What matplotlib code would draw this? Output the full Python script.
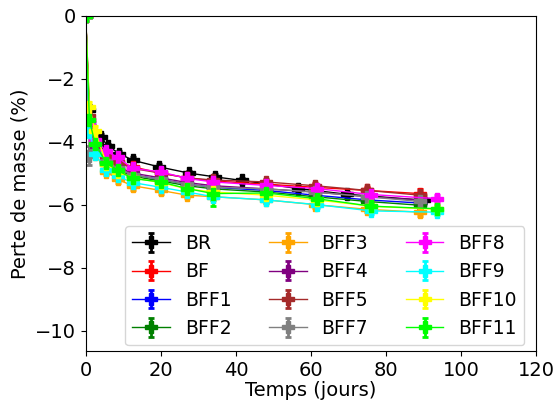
import numpy as np
import matplotlib
matplotlib.use("Agg")
import matplotlib.pyplot as plt

# ── temps de mesure (jours)
t_br = [0, 1, 4, 6, 9, 12.5, 19.5, 27.5, 34.5, 41.5, 56.5, 69.5, 90]
t_a  = [0, 1, 2.5, 5.5, 8.5, 12.5, 20, 27, 34, 48, 61, 75, 89]
t_b  = [0, 1, 2.5, 5.5, 8.5, 12.5, 20, 27, 34, 48, 61.5, 76, 93.5]

# ── perte de masse (%) par formulation
br    = [0, -3.00, -3.85, -4.15, -4.38, -4.59, -4.80, -5.00, -5.12, -5.23, -5.49, -5.67, -5.86]
bf    = [0, -3.30, -4.10, -4.45, -4.65, -4.80, -5.00, -5.15, -5.25, -5.35, -5.45, -5.55, -5.65]
bff1  = [0, -3.40, -4.20, -4.65, -4.85, -5.05, -5.20, -5.35, -5.45, -5.55, -5.70, -5.85, -5.95]
bff2  = [0, -3.50, -4.25, -4.70, -4.90, -5.10, -5.25, -5.40, -5.50, -5.60, -5.75, -5.90, -6.02]
bff3  = [0, -3.60, -4.40, -4.95, -5.20, -5.40, -5.55, -5.70, -5.75, -5.85, -6.00, -6.15, -6.24]
bff4  = [0, -3.30, -4.15, -4.60, -4.80, -5.00, -5.15, -5.30, -5.40, -5.50, -5.60, -5.75, -5.85]
bff5  = [0, -3.20, -4.00, -4.45, -4.65, -4.85, -5.00, -5.15, -5.22, -5.28, -5.40, -5.55, -5.70]
bff7  = [0, -4.45, -4.30, -4.60, -4.85, -5.05, -5.20, -5.35, -5.45, -5.50, -5.60, -5.75, -5.90]
bff8  = [0, -3.40, -3.95, -4.30, -4.50, -4.85, -4.96, -5.17, -5.28, -5.39, -5.49, -5.68, -5.81]
bff9  = [0, -3.70, -4.40, -4.90, -5.10, -5.30, -5.45, -5.60, -5.75, -5.85, -6.00, -6.20, -6.24]
bff10 = [0, -2.90, -3.65, -4.70, -4.95, -5.15, -5.30, -5.50, -5.60, -5.70, -5.85, -6.05, -6.15]
bff11 = [0, -3.32, -4.06, -4.68, -4.91, -5.17, -5.28, -5.49, -5.65, -5.63, -5.81, -6.05, -6.13]

# ── écarts-types
e_br    = [0, 0.15, 0.10, 0.08, 0.08, 0.10, 0.08, 0.08, 0.08, 0.08, 0.10, 0.08, 0.08]
e_bf    = [0, 0.12, 0.10, 0.08, 0.08, 0.10, 0.10, 0.08, 0.08, 0.08, 0.10, 0.10, 0.15]
e_bff1  = [0, 0.10, 0.08, 0.08, 0.08, 0.08, 0.08, 0.08, 0.08, 0.08, 0.08, 0.08, 0.10]
e_bff2  = [0, 0.10, 0.08, 0.08, 0.10, 0.10, 0.08, 0.08, 0.10, 0.08, 0.10, 0.08, 0.12]
e_bff3  = [0, 0.10, 0.10, 0.12, 0.12, 0.12, 0.12, 0.10, 0.10, 0.10, 0.10, 0.10, 0.12]
e_bff4  = [0, 0.10, 0.08, 0.08, 0.08, 0.08, 0.08, 0.08, 0.08, 0.08, 0.08, 0.08, 0.08]
e_bff5  = [0, 0.10, 0.08, 0.08, 0.08, 0.08, 0.08, 0.08, 0.08, 0.08, 0.08, 0.08, 0.10]
e_bff7  = [0, 0.30, 0.10, 0.08, 0.08, 0.08, 0.08, 0.08, 0.08, 0.08, 0.08, 0.08, 0.08]
e_bff8  = [0, 0.10, 0.10, 0.10, 0.10, 0.10, 0.10, 0.10, 0.10, 0.10, 0.10, 0.10, 0.10]
e_bff9  = [0, 0.10, 0.10, 0.10, 0.10, 0.10, 0.10, 0.10, 0.10, 0.10, 0.10, 0.10, 0.10]
e_bff10 = [0, 0.15, 0.15, 0.10, 0.10, 0.10, 0.10, 0.10, 0.10, 0.10, 0.10, 0.10, 0.10]
e_bff11 = [0, 0.15, 0.12, 0.10, 0.12, 0.12, 0.12, 0.12, 0.40, 0.10, 0.10, 0.12, 0.12]

labels = ['BR', 'BF', 'BFF1', 'BFF2', 'BFF3', 'BFF4',
          'BFF5', 'BFF7', 'BFF8', 'BFF9', 'BFF10', 'BFF11']
colors = ['black', 'red', 'blue', 'green', 'orange', 'purple',
          'brown', 'grey', 'magenta', 'cyan', 'yellow', 'lime']
times  = [t_br, t_a, t_a, t_a, t_a, t_a, t_a, t_a, t_b, t_b, t_b, t_b]
values = [br, bf, bff1, bff2, bff3, bff4, bff5, bff7, bff8, bff9, bff10, bff11]
errors = [e_br, e_bf, e_bff1, e_bff2, e_bff3, e_bff4, e_bff5, e_bff7,
          e_bff8, e_bff9, e_bff10, e_bff11]

fig = plt.figure(figsize=(5.6, 4.03), dpi=100)
ax = fig.add_subplot(111)
fig.subplots_adjust(left=0.153, right=0.958, top=0.961, bottom=0.129)

for t, y, e, lab, c in zip(times, values, errors, labels, colors):
    ax.errorbar(t, y, yerr=e, color=c, label=lab, lw=1,
                marker='P', markersize=8, elinewidth=2,
                capsize=2, capthick=2)

ax.set_xlim(0, 120)
ax.set_ylim(-10.65, 0)
ax.set_xlabel("Temps (jours)", fontsize=14, labelpad=1)
ax.set_ylabel("Perte de masse (%)", fontsize=14)
ax.tick_params(labelsize=14)
ax.legend(ncol=3, loc='lower center', bbox_to_anchor=(0.53, 0),
          fontsize=13.5, borderaxespad=0.3)

fig.savefig("out.png", dpi=100)
